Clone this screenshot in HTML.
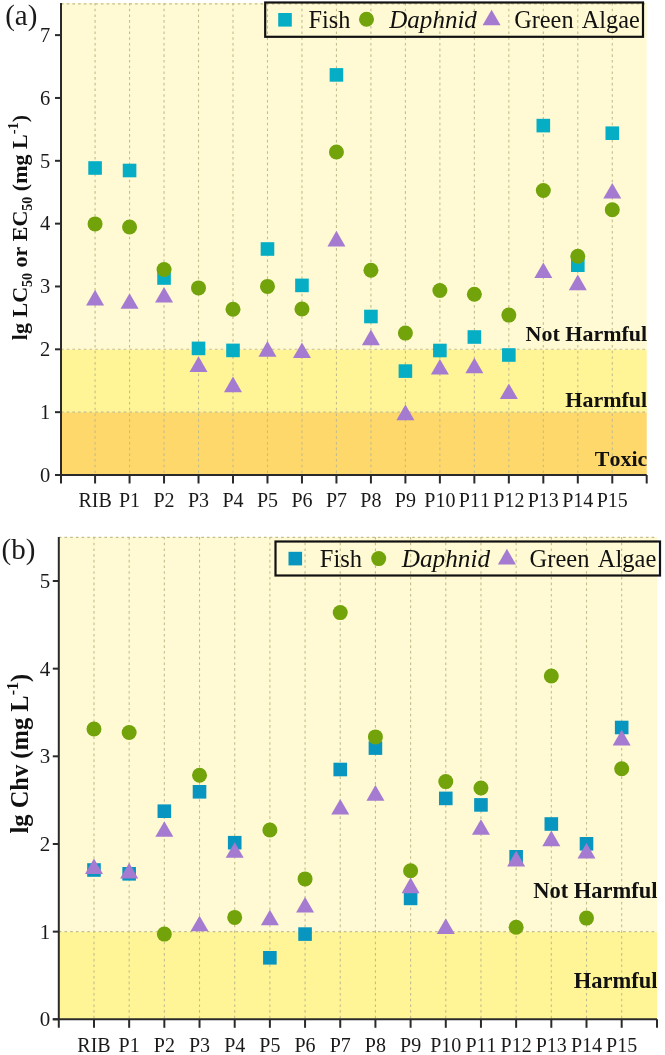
<!DOCTYPE html>
<html><head><meta charset="utf-8"><style>
html,body{margin:0;padding:0;background:#fff;}
svg{display:block;filter:blur(0.35px);}
text{font-family:"Liberation Serif", serif;fill:#1a1a1a;font-kerning:none;}
.g{stroke:#c2bd8c;stroke-width:1.1;stroke-dasharray:2.6 3.1;}
.ax{stroke:#2a2a2a;stroke-width:2;}
.tl{font-size:19.5px;}
.bl{font-size:22px;font-weight:bold;text-anchor:end;fill:#111;}
.yl{font-size:21px;font-weight:bold;fill:#111;}
.let{font-size:27px;}
.lg{fill:#111;}
</style></head><body>
<svg width="665" height="1055" viewBox="0 0 665 1055">
<rect width="665" height="1055" fill="#fff"/>
<rect x="61" y="412.16" width="585.7" height="62.84" fill="#fed86a"/>
<rect x="61" y="349.32" width="585.7" height="62.84" fill="#fff596"/>
<rect x="61" y="3" width="585.7" height="346.32" fill="#fffad3"/>
<line x1="95.08" y1="3" x2="95.08" y2="475" class="g"/>
<line x1="129.56" y1="3" x2="129.56" y2="475" class="g"/>
<line x1="164.04" y1="3" x2="164.04" y2="475" class="g"/>
<line x1="198.52" y1="3" x2="198.52" y2="475" class="g"/>
<line x1="233" y1="3" x2="233" y2="475" class="g"/>
<line x1="267.48" y1="3" x2="267.48" y2="475" class="g"/>
<line x1="301.96" y1="3" x2="301.96" y2="475" class="g"/>
<line x1="336.44" y1="3" x2="336.44" y2="475" class="g"/>
<line x1="370.92" y1="3" x2="370.92" y2="475" class="g"/>
<line x1="405.4" y1="3" x2="405.4" y2="475" class="g"/>
<line x1="439.88" y1="3" x2="439.88" y2="475" class="g"/>
<line x1="474.36" y1="3" x2="474.36" y2="475" class="g"/>
<line x1="508.84" y1="3" x2="508.84" y2="475" class="g"/>
<line x1="543.32" y1="3" x2="543.32" y2="475" class="g"/>
<line x1="577.8" y1="3" x2="577.8" y2="475" class="g"/>
<line x1="612.28" y1="3" x2="612.28" y2="475" class="g"/>
<line x1="61" y1="3.9" x2="646.7" y2="3.9" class="g"/>
<line x1="61" y1="412.16" x2="646.7" y2="412.16" class="g"/>
<line x1="61" y1="349.32" x2="646.7" y2="349.32" class="g"/>
<text x="647.2" y="340.8" class="bl" style="font-size:22px">Not Harmful</text>
<text x="647.2" y="407.2" class="bl" style="font-size:22px">Harmful</text>
<text x="647.4" y="466.2" class="bl" style="font-size:22px">Toxic</text>
<rect x="88.28" y="161.2" width="13.6" height="13.6" fill="#05aec4"/>
<rect x="122.76" y="163.7" width="13.6" height="13.6" fill="#05aec4"/>
<rect x="157.24" y="271.2" width="13.6" height="13.6" fill="#05aec4"/>
<rect x="191.72" y="341.6" width="13.6" height="13.6" fill="#05aec4"/>
<rect x="226.2" y="343.6" width="13.6" height="13.6" fill="#05aec4"/>
<rect x="260.68" y="242.2" width="13.6" height="13.6" fill="#05aec4"/>
<rect x="295.16" y="278.6" width="13.6" height="13.6" fill="#05aec4"/>
<rect x="329.64" y="68.1" width="13.6" height="13.6" fill="#05aec4"/>
<rect x="364.12" y="309.7" width="13.6" height="13.6" fill="#05aec4"/>
<rect x="398.6" y="364.3" width="13.6" height="13.6" fill="#05aec4"/>
<rect x="433.08" y="343.7" width="13.6" height="13.6" fill="#05aec4"/>
<rect x="467.56" y="330.2" width="13.6" height="13.6" fill="#05aec4"/>
<rect x="502.04" y="348.2" width="13.6" height="13.6" fill="#05aec4"/>
<rect x="536.52" y="118.8" width="13.6" height="13.6" fill="#05aec4"/>
<rect x="571" y="258.4" width="13.6" height="13.6" fill="#05aec4"/>
<rect x="605.48" y="126.4" width="13.6" height="13.6" fill="#05aec4"/>
<circle cx="95.08" cy="223.9" r="7.5" fill="#72a30a"/>
<circle cx="129.56" cy="227" r="7.5" fill="#72a30a"/>
<circle cx="164.04" cy="269.5" r="7.5" fill="#72a30a"/>
<circle cx="198.52" cy="287.9" r="7.5" fill="#72a30a"/>
<circle cx="233" cy="309.2" r="7.5" fill="#72a30a"/>
<circle cx="267.48" cy="286.4" r="7.5" fill="#72a30a"/>
<circle cx="301.96" cy="309" r="7.5" fill="#72a30a"/>
<circle cx="336.44" cy="152" r="7.5" fill="#72a30a"/>
<circle cx="370.92" cy="270.3" r="7.5" fill="#72a30a"/>
<circle cx="405.4" cy="333.1" r="7.5" fill="#72a30a"/>
<circle cx="439.88" cy="290.5" r="7.5" fill="#72a30a"/>
<circle cx="474.36" cy="294.3" r="7.5" fill="#72a30a"/>
<circle cx="508.84" cy="315.1" r="7.5" fill="#72a30a"/>
<circle cx="543.32" cy="190.5" r="7.5" fill="#72a30a"/>
<circle cx="577.8" cy="256.2" r="7.5" fill="#72a30a"/>
<circle cx="612.28" cy="209.7" r="7.5" fill="#72a30a"/>
<path d="M95.08 289.8L104.08 305.4L86.08 305.4Z" fill="#a47bd0"/>
<path d="M129.56 293.25L138.56 308.85L120.56 308.85Z" fill="#a47bd0"/>
<path d="M164.04 286.9L173.04 302.5L155.04 302.5Z" fill="#a47bd0"/>
<path d="M198.52 356.35L207.52 371.95L189.52 371.95Z" fill="#a47bd0"/>
<path d="M233 376.6L242 392.2L224 392.2Z" fill="#a47bd0"/>
<path d="M267.48 341.1L276.48 356.7L258.48 356.7Z" fill="#a47bd0"/>
<path d="M301.96 342.4L310.96 358L292.96 358Z" fill="#a47bd0"/>
<path d="M336.44 230.85L345.44 246.45L327.44 246.45Z" fill="#a47bd0"/>
<path d="M370.92 329.6L379.92 345.2L361.92 345.2Z" fill="#a47bd0"/>
<path d="M405.4 404.6L414.4 420.2L396.4 420.2Z" fill="#a47bd0"/>
<path d="M439.88 359L448.88 374.6L430.88 374.6Z" fill="#a47bd0"/>
<path d="M474.36 357.75L483.36 373.35L465.36 373.35Z" fill="#a47bd0"/>
<path d="M508.84 383.45L517.84 399.05L499.84 399.05Z" fill="#a47bd0"/>
<path d="M543.32 262.4L552.32 278L534.32 278Z" fill="#a47bd0"/>
<path d="M577.8 274.55L586.8 290.15L568.8 290.15Z" fill="#a47bd0"/>
<path d="M612.28 182.95L621.28 198.55L603.28 198.55Z" fill="#a47bd0"/>
<line x1="61" y1="3" x2="61" y2="483.5" class="ax"/>
<line x1="55" y1="475" x2="646.7" y2="475" class="ax"/>
<line x1="95.08" y1="475" x2="95.08" y2="483.5" class="ax"/>
<line x1="129.56" y1="475" x2="129.56" y2="483.5" class="ax"/>
<line x1="164.04" y1="475" x2="164.04" y2="483.5" class="ax"/>
<line x1="198.52" y1="475" x2="198.52" y2="483.5" class="ax"/>
<line x1="233" y1="475" x2="233" y2="483.5" class="ax"/>
<line x1="267.48" y1="475" x2="267.48" y2="483.5" class="ax"/>
<line x1="301.96" y1="475" x2="301.96" y2="483.5" class="ax"/>
<line x1="336.44" y1="475" x2="336.44" y2="483.5" class="ax"/>
<line x1="370.92" y1="475" x2="370.92" y2="483.5" class="ax"/>
<line x1="405.4" y1="475" x2="405.4" y2="483.5" class="ax"/>
<line x1="439.88" y1="475" x2="439.88" y2="483.5" class="ax"/>
<line x1="474.36" y1="475" x2="474.36" y2="483.5" class="ax"/>
<line x1="508.84" y1="475" x2="508.84" y2="483.5" class="ax"/>
<line x1="543.32" y1="475" x2="543.32" y2="483.5" class="ax"/>
<line x1="577.8" y1="475" x2="577.8" y2="483.5" class="ax"/>
<line x1="612.28" y1="475" x2="612.28" y2="483.5" class="ax"/>
<line x1="646.7" y1="475" x2="646.7" y2="483.5" class="ax"/>
<line x1="55" y1="475" x2="61" y2="475" class="ax"/>
<text x="50.3" y="481.7" class="tl" text-anchor="end" style="font-size:20.5px">0</text>
<line x1="55" y1="412.16" x2="61" y2="412.16" class="ax"/>
<text x="50.3" y="418.86" class="tl" text-anchor="end" style="font-size:20.5px">1</text>
<line x1="55" y1="349.32" x2="61" y2="349.32" class="ax"/>
<text x="50.3" y="356.02" class="tl" text-anchor="end" style="font-size:20.5px">2</text>
<line x1="55" y1="286.48" x2="61" y2="286.48" class="ax"/>
<text x="50.3" y="293.18" class="tl" text-anchor="end" style="font-size:20.5px">3</text>
<line x1="55" y1="223.64" x2="61" y2="223.64" class="ax"/>
<text x="50.3" y="230.34" class="tl" text-anchor="end" style="font-size:20.5px">4</text>
<line x1="55" y1="160.8" x2="61" y2="160.8" class="ax"/>
<text x="50.3" y="167.5" class="tl" text-anchor="end" style="font-size:20.5px">5</text>
<line x1="55" y1="97.96" x2="61" y2="97.96" class="ax"/>
<text x="50.3" y="104.66" class="tl" text-anchor="end" style="font-size:20.5px">6</text>
<line x1="55" y1="35.12" x2="61" y2="35.12" class="ax"/>
<text x="50.3" y="41.82" class="tl" text-anchor="end" style="font-size:20.5px">7</text>
<text x="95.08" y="506.9" class="tl" text-anchor="middle" style="font-size:20px">RIB</text>
<text x="129.56" y="506.9" class="tl" text-anchor="middle" style="font-size:20px">P1</text>
<text x="164.04" y="506.9" class="tl" text-anchor="middle" style="font-size:20px">P2</text>
<text x="198.52" y="506.9" class="tl" text-anchor="middle" style="font-size:20px">P3</text>
<text x="233" y="506.9" class="tl" text-anchor="middle" style="font-size:20px">P4</text>
<text x="267.48" y="506.9" class="tl" text-anchor="middle" style="font-size:20px">P5</text>
<text x="301.96" y="506.9" class="tl" text-anchor="middle" style="font-size:20px">P6</text>
<text x="336.44" y="506.9" class="tl" text-anchor="middle" style="font-size:20px">P7</text>
<text x="370.92" y="506.9" class="tl" text-anchor="middle" style="font-size:20px">P8</text>
<text x="405.4" y="506.9" class="tl" text-anchor="middle" style="font-size:20px">P9</text>
<text x="439.88" y="506.9" class="tl" text-anchor="middle" style="font-size:20px">P10</text>
<text x="474.36" y="506.9" class="tl" text-anchor="middle" style="font-size:20px">P11</text>
<text x="508.84" y="506.9" class="tl" text-anchor="middle" style="font-size:20px">P12</text>
<text x="543.32" y="506.9" class="tl" text-anchor="middle" style="font-size:20px">P13</text>
<text x="577.8" y="506.9" class="tl" text-anchor="middle" style="font-size:20px">P14</text>
<text x="612.28" y="506.9" class="tl" text-anchor="middle" style="font-size:20px">P15</text>
<text transform="translate(26.6 227.5) rotate(-90)" class="yl" text-anchor="middle" style="font-size:22px">lg LC<tspan dy="5" font-size="14">50</tspan><tspan dy="-5"> or EC</tspan><tspan dy="5" font-size="14">50</tspan><tspan dy="-5"> (mg L</tspan><tspan dy="-8.5" font-size="14.5">-1</tspan><tspan dy="8.5">)</tspan></text>
<text x="5.2" y="25.3" class="let" style="font-size:29px">(a)</text>
<rect x="265.2" y="2.5" width="377.8" height="34.3" fill="none" stroke="#111" stroke-width="2.2"/>
<rect x="278.2" y="13" width="13.6" height="13.6" fill="#05aec4"/>
<circle cx="366.5" cy="19.3" r="7.5" fill="#72a30a"/>
<path d="M491.6 9.7L500.6 25.3L482.6 25.3Z" fill="#a47bd0"/>
<text x="308.6" y="28.3" class="lg" style="font-size:24.3px">Fish</text>
<text x="389.3" y="28.3" class="lg" style="font-size:25.03px;font-style:italic">Daphnid</text>
<text x="514.2" y="28.3" class="lg" style="font-size:24.3px;word-spacing:2.2px">Green Algae</text>
<rect x="58.8" y="931.64" width="598.2" height="87.66" fill="#fff596"/>
<rect x="58.8" y="537" width="598.2" height="394.64" fill="#fffad3"/>
<line x1="93.98" y1="537" x2="93.98" y2="1019.3" class="g"/>
<line x1="129.16" y1="537" x2="129.16" y2="1019.3" class="g"/>
<line x1="164.34" y1="537" x2="164.34" y2="1019.3" class="g"/>
<line x1="199.52" y1="537" x2="199.52" y2="1019.3" class="g"/>
<line x1="234.7" y1="537" x2="234.7" y2="1019.3" class="g"/>
<line x1="269.88" y1="537" x2="269.88" y2="1019.3" class="g"/>
<line x1="305.06" y1="537" x2="305.06" y2="1019.3" class="g"/>
<line x1="340.24" y1="537" x2="340.24" y2="1019.3" class="g"/>
<line x1="375.42" y1="537" x2="375.42" y2="1019.3" class="g"/>
<line x1="410.6" y1="537" x2="410.6" y2="1019.3" class="g"/>
<line x1="445.78" y1="537" x2="445.78" y2="1019.3" class="g"/>
<line x1="480.96" y1="537" x2="480.96" y2="1019.3" class="g"/>
<line x1="516.14" y1="537" x2="516.14" y2="1019.3" class="g"/>
<line x1="551.32" y1="537" x2="551.32" y2="1019.3" class="g"/>
<line x1="586.5" y1="537" x2="586.5" y2="1019.3" class="g"/>
<line x1="621.68" y1="537" x2="621.68" y2="1019.3" class="g"/>
<line x1="58.8" y1="537.4" x2="657" y2="537.4" class="g"/>
<line x1="58.8" y1="931.64" x2="657" y2="931.64" class="g"/>
<text x="657.6" y="898.2" class="bl" style="font-size:22.5px">Not Harmful</text>
<text x="657.6" y="988.3" class="bl" style="font-size:22.5px">Harmful</text>
<rect x="87.18" y="863.2" width="13.6" height="13.6" fill="#0896c0"/>
<rect x="122.36" y="867" width="13.6" height="13.6" fill="#0896c0"/>
<rect x="157.54" y="804.4" width="13.6" height="13.6" fill="#0896c0"/>
<rect x="192.72" y="785" width="13.6" height="13.6" fill="#0896c0"/>
<rect x="227.9" y="835.9" width="13.6" height="13.6" fill="#0896c0"/>
<rect x="263.08" y="951" width="13.6" height="13.6" fill="#0896c0"/>
<rect x="298.26" y="927.3" width="13.6" height="13.6" fill="#0896c0"/>
<rect x="333.44" y="762.7" width="13.6" height="13.6" fill="#0896c0"/>
<rect x="368.62" y="741.3" width="13.6" height="13.6" fill="#0896c0"/>
<rect x="403.8" y="891.6" width="13.6" height="13.6" fill="#0896c0"/>
<rect x="438.98" y="791.6" width="13.6" height="13.6" fill="#0896c0"/>
<rect x="474.16" y="798.1" width="13.6" height="13.6" fill="#0896c0"/>
<rect x="509.34" y="850" width="13.6" height="13.6" fill="#0896c0"/>
<rect x="544.52" y="817.2" width="13.6" height="13.6" fill="#0896c0"/>
<rect x="579.7" y="837" width="13.6" height="13.6" fill="#0896c0"/>
<rect x="614.88" y="720.7" width="13.6" height="13.6" fill="#0896c0"/>
<circle cx="93.98" cy="729" r="7.5" fill="#72a30a"/>
<circle cx="129.16" cy="732.5" r="7.5" fill="#72a30a"/>
<circle cx="164.34" cy="934.1" r="7.5" fill="#72a30a"/>
<circle cx="199.52" cy="775.2" r="7.5" fill="#72a30a"/>
<circle cx="234.7" cy="917.4" r="7.5" fill="#72a30a"/>
<circle cx="269.88" cy="830" r="7.5" fill="#72a30a"/>
<circle cx="305.06" cy="878.9" r="7.5" fill="#72a30a"/>
<circle cx="340.24" cy="612.6" r="7.5" fill="#72a30a"/>
<circle cx="375.42" cy="736.9" r="7.5" fill="#72a30a"/>
<circle cx="410.6" cy="870.8" r="7.5" fill="#72a30a"/>
<circle cx="445.78" cy="781.6" r="7.5" fill="#72a30a"/>
<circle cx="480.96" cy="788" r="7.5" fill="#72a30a"/>
<circle cx="516.14" cy="927.2" r="7.5" fill="#72a30a"/>
<circle cx="551.32" cy="676" r="7.5" fill="#72a30a"/>
<circle cx="586.5" cy="918.1" r="7.5" fill="#72a30a"/>
<circle cx="621.68" cy="768.8" r="7.5" fill="#72a30a"/>
<path d="M93.98 858.4L102.98 874L84.98 874Z" fill="#a47bd0"/>
<path d="M129.16 862.8L138.16 878.4L120.16 878.4Z" fill="#a47bd0"/>
<path d="M164.34 821.15L173.34 836.75L155.34 836.75Z" fill="#a47bd0"/>
<path d="M199.52 915.75L208.52 931.35L190.52 931.35Z" fill="#a47bd0"/>
<path d="M234.7 842.25L243.7 857.85L225.7 857.85Z" fill="#a47bd0"/>
<path d="M269.88 909.75L278.88 925.35L260.88 925.35Z" fill="#a47bd0"/>
<path d="M305.06 896.95L314.06 912.55L296.06 912.55Z" fill="#a47bd0"/>
<path d="M340.24 798.95L349.24 814.55L331.24 814.55Z" fill="#a47bd0"/>
<path d="M375.42 785.1L384.42 800.7L366.42 800.7Z" fill="#a47bd0"/>
<path d="M410.6 877.55L419.6 893.15L401.6 893.15Z" fill="#a47bd0"/>
<path d="M445.78 918.35L454.78 933.95L436.78 933.95Z" fill="#a47bd0"/>
<path d="M480.96 819.15L489.96 834.75L471.96 834.75Z" fill="#a47bd0"/>
<path d="M516.14 850.85L525.14 866.45L507.14 866.45Z" fill="#a47bd0"/>
<path d="M551.32 830.55L560.32 846.15L542.32 846.15Z" fill="#a47bd0"/>
<path d="M586.5 842.95L595.5 858.55L577.5 858.55Z" fill="#a47bd0"/>
<path d="M621.68 729.85L630.68 745.45L612.68 745.45Z" fill="#a47bd0"/>
<line x1="58.8" y1="537" x2="58.8" y2="1027.8" class="ax"/>
<line x1="52.8" y1="1019.3" x2="657" y2="1019.3" class="ax"/>
<line x1="93.98" y1="1019.3" x2="93.98" y2="1027.8" class="ax"/>
<line x1="129.16" y1="1019.3" x2="129.16" y2="1027.8" class="ax"/>
<line x1="164.34" y1="1019.3" x2="164.34" y2="1027.8" class="ax"/>
<line x1="199.52" y1="1019.3" x2="199.52" y2="1027.8" class="ax"/>
<line x1="234.7" y1="1019.3" x2="234.7" y2="1027.8" class="ax"/>
<line x1="269.88" y1="1019.3" x2="269.88" y2="1027.8" class="ax"/>
<line x1="305.06" y1="1019.3" x2="305.06" y2="1027.8" class="ax"/>
<line x1="340.24" y1="1019.3" x2="340.24" y2="1027.8" class="ax"/>
<line x1="375.42" y1="1019.3" x2="375.42" y2="1027.8" class="ax"/>
<line x1="410.6" y1="1019.3" x2="410.6" y2="1027.8" class="ax"/>
<line x1="445.78" y1="1019.3" x2="445.78" y2="1027.8" class="ax"/>
<line x1="480.96" y1="1019.3" x2="480.96" y2="1027.8" class="ax"/>
<line x1="516.14" y1="1019.3" x2="516.14" y2="1027.8" class="ax"/>
<line x1="551.32" y1="1019.3" x2="551.32" y2="1027.8" class="ax"/>
<line x1="586.5" y1="1019.3" x2="586.5" y2="1027.8" class="ax"/>
<line x1="621.68" y1="1019.3" x2="621.68" y2="1027.8" class="ax"/>
<line x1="657" y1="1019.3" x2="657" y2="1027.8" class="ax"/>
<line x1="52.8" y1="1019.3" x2="58.8" y2="1019.3" class="ax"/>
<text x="50.2" y="1026.3" class="tl" text-anchor="end" style="font-size:21px">0</text>
<line x1="52.8" y1="931.64" x2="58.8" y2="931.64" class="ax"/>
<text x="50.2" y="938.64" class="tl" text-anchor="end" style="font-size:21px">1</text>
<line x1="52.8" y1="843.98" x2="58.8" y2="843.98" class="ax"/>
<text x="50.2" y="850.98" class="tl" text-anchor="end" style="font-size:21px">2</text>
<line x1="52.8" y1="756.32" x2="58.8" y2="756.32" class="ax"/>
<text x="50.2" y="763.32" class="tl" text-anchor="end" style="font-size:21px">3</text>
<line x1="52.8" y1="668.66" x2="58.8" y2="668.66" class="ax"/>
<text x="50.2" y="675.66" class="tl" text-anchor="end" style="font-size:21px">4</text>
<line x1="52.8" y1="581" x2="58.8" y2="581" class="ax"/>
<text x="50.2" y="588" class="tl" text-anchor="end" style="font-size:21px">5</text>
<text x="93.98" y="1051.7" class="tl" text-anchor="middle" style="font-size:20px">RIB</text>
<text x="129.16" y="1051.7" class="tl" text-anchor="middle" style="font-size:20px">P1</text>
<text x="164.34" y="1051.7" class="tl" text-anchor="middle" style="font-size:20px">P2</text>
<text x="199.52" y="1051.7" class="tl" text-anchor="middle" style="font-size:20px">P3</text>
<text x="234.7" y="1051.7" class="tl" text-anchor="middle" style="font-size:20px">P4</text>
<text x="269.88" y="1051.7" class="tl" text-anchor="middle" style="font-size:20px">P5</text>
<text x="305.06" y="1051.7" class="tl" text-anchor="middle" style="font-size:20px">P6</text>
<text x="340.24" y="1051.7" class="tl" text-anchor="middle" style="font-size:20px">P7</text>
<text x="375.42" y="1051.7" class="tl" text-anchor="middle" style="font-size:20px">P8</text>
<text x="410.6" y="1051.7" class="tl" text-anchor="middle" style="font-size:20px">P9</text>
<text x="445.78" y="1051.7" class="tl" text-anchor="middle" style="font-size:20px">P10</text>
<text x="480.96" y="1051.7" class="tl" text-anchor="middle" style="font-size:20px">P11</text>
<text x="516.14" y="1051.7" class="tl" text-anchor="middle" style="font-size:20px">P12</text>
<text x="551.32" y="1051.7" class="tl" text-anchor="middle" style="font-size:20px">P13</text>
<text x="586.5" y="1051.7" class="tl" text-anchor="middle" style="font-size:20px">P14</text>
<text x="621.68" y="1051.7" class="tl" text-anchor="middle" style="font-size:20px">P15</text>
<text transform="translate(27.5 753.7) rotate(-90)" class="yl" text-anchor="middle" style="font-size:24.5px">lg Chv (mg L<tspan dy="-9.5" font-size="16">-1</tspan><tspan dy="9.5">)</tspan></text>
<text x="1.6" y="559.3" class="let" style="font-size:29px">(b)</text>
<rect x="275.5" y="541.5" width="384.5" height="34" fill="none" stroke="#111" stroke-width="2.2"/>
<rect x="288.5" y="551.8" width="13.6" height="13.6" fill="#0896c0"/>
<circle cx="378.7" cy="558.6" r="7.5" fill="#72a30a"/>
<path d="M506.9 548.8L515.9 564.4L497.9 564.4Z" fill="#a47bd0"/>
<text x="319.8" y="567.4" class="lg" style="font-size:24.5px">Fish</text>
<text x="401.8" y="567.4" class="lg" style="font-size:25.23px;font-style:italic">Daphnid</text>
<text x="529.6" y="567.4" class="lg" style="font-size:24.5px;word-spacing:2.2px">Green Algae</text>
</svg>
</body></html>
